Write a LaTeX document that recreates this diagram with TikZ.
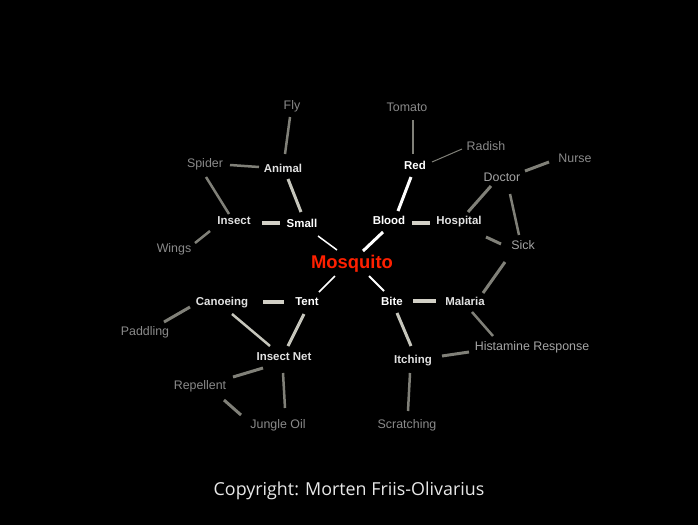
\documentclass[tikz,border=0pt]{standalone}
\usepackage{fontspec}
\usetikzlibrary{calc}
\setmainfont{Liberation Sans}
\newfontfamily\copyfont{Open Sans}
\definecolor{outergray}{RGB}{138,138,138}
\definecolor{midgray}{RGB}{165,165,165}
\definecolor{innertext}{RGB}{225,225,225}
\definecolor{edgegray}{RGB}{128,128,120}
\definecolor{edgelight}{RGB}{198,198,188}
\definecolor{edgethick}{RGB}{210,208,198}
\definecolor{mosqred}{RGB}{255,32,0}
\definecolor{copygray}{RGB}{232,232,232}
\begin{document}
\begin{tikzpicture}[x=0.75pt,y=-0.75pt,
  lbl/.style={inner xsep=3pt,inner ysep=2pt,text height=6.6pt,text depth=0.4pt,font=\fontsize{9.3}{10}\selectfont},
  outerlbl/.style={lbl,text=outergray},
  midlbl/.style={lbl,text=midgray},
  innerlbl/.style={lbl,text=innertext,font=\fontsize{8.6}{10}\selectfont\bfseries},
  toplbl/.style={lbl,text=white,font=\fontsize{8.6}{10}\selectfont\bfseries},
  centrelbl/.style={inner xsep=4pt,inner ysep=5pt,text=mosqred,font=\fontsize{13.8}{16}\selectfont\bfseries},
  gline/.style={draw=edgegray,line width=2.5*0.75pt},
  lline/.style={draw=edgelight,line width=3*0.75pt},
  tline/.style={draw=edgethick,line width=4.5*0.75pt},
  wline/.style={draw=white}
]
\fill[black] (0,0) rectangle (698,525);
\useasboundingbox (0,0) rectangle (698,525);

\node[centrelbl] (mosq) at (352,264) {Mosquito};
% first ring
\node[toplbl] (small) at (302,223) {Small};
\node[toplbl] (blood) at (389,220) {Blood};
\node[toplbl] (tent) at (307,301) {Tent};
\node[toplbl] (bite) at (392,301) {Bite};
\node[toplbl] (red) at (415,165) {Red};
% second ring
\node[innerlbl] (animal) at (283,168) {Animal};
\node[innerlbl] (insect) at (234,220) {Insect};
\node[innerlbl] (hospital) at (459,220) {Hospital};
\node[innerlbl] (malaria) at (465,301) {Malaria};
\node[innerlbl] (itching) at (413,359) {Itching};
\node[innerlbl] (canoeing) at (222,301) {Canoeing};
\node[innerlbl] (inet) at (284,356) {Insect Net};
% outer
\node[outerlbl] (fly) at (292,105) {Fly};
\node[outerlbl] (spider) at (205,163) {Spider};
\node[outerlbl] (wings) at (174,248) {Wings};
\node[outerlbl] (tomato) at (407,107) {Tomato};
\node[outerlbl] (radish) at (486,146) {Radish};
\node[midlbl] (doctor) at (502,177) {Doctor};
\node[outerlbl] (nurse) at (575,158) {Nurse};
\node[midlbl] (sick) at (523,245) {Sick};
\node[midlbl] (hist) at (532,346) {Histamine Response};
\node[outerlbl] (scratch) at (407,424) {Scratching};
\node[outerlbl] (paddling) at (145,331) {Paddling};
\node[outerlbl] (repel) at (200,385) {Repellent};
\node[outerlbl] (jungle) at (278,424) {Jungle Oil};

\node[text=copygray,font=\copyfont\fontsize{13.4}{16}\selectfont,inner sep=0pt] (copy) at (349,491) {Copyright: Morten Friis-Olivarius};

% centre links
\draw[wline,line width=1.5*0.75pt] ($(small)+(16,13)$) -- ($(mosq)+(-15,-14)$);
\draw[wline,line width=3*0.75pt] ($(blood)+(-6,12)$) -- ($(mosq)+(11,-13)$);
\draw[wline,line width=1.5*0.75pt] ($(tent)+(12,-9)$) -- ($(mosq)+(-17,12)$);
\draw[wline,line width=2*0.75pt] ($(bite)+(-8,-10)$) -- ($(mosq)+(17,12)$);
\draw[wline,line width=3*0.75pt] ($(red)+(-4,12)$) -- ($(blood)+(9,-9)$);
% thick horizontals
\draw[tline] ($(insect)+(28,3)$) -- ($(small)+(-22,0)$);
\draw[tline] ($(blood)+(23,3)$) -- ($(hospital)+(-29,3)$);
\draw[tline] ($(canoeing)+(41,1)$) -- ($(tent)+(-23,1)$);
\draw[tline] ($(bite)+(21,0)$) -- ($(malaria)+(-29,0)$);
% light links
\draw[lline] ($(animal)+(5,11)$) -- ($(small)+(-1,-11)$);
\draw[lline,line width=2.5*0.75pt] ($(canoeing)+(10,13)$) -- ($(inet)+(-14,-10)$);
\draw[lline] ($(tent)+(-3,13)$) -- ($(inet)+(4,-10)$);
\draw[lline] ($(bite)+(5,12)$) -- ($(itching)+(-2,-13)$);
% gray links
\draw[gline] ($(fly)+(-2,12)$) -- ($(animal)+(2,-14)$);
\draw[gline] ($(spider)+(25,2)$) -- ($(animal)+(-24,-1)$);
\draw[gline] ($(spider)+(1,14)$) -- ($(insect)+(-5,-6)$);
\draw[gline] ($(insect)+(-24,11)$) -- ($(wings)+(21,-5)$);
\draw[gline] ($(tomato)+(6,13)$) -- ($(red)+(-2,-11)$);
\draw[gline,line width=1*0.75pt] ($(red)+(17,-3)$) -- ($(radish)+(-24,3)$);
\draw[gline,line width=3*0.75pt] ($(doctor)+(23,-6)$) -- ($(nurse)+(-26,4)$);
\draw[gline,line width=3*0.75pt] ($(doctor)+(-11,9)$) -- ($(hospital)+(9,-8)$);
\draw[gline] ($(doctor)+(8,17)$) -- ($(sick)+(-4,-10)$);
\draw[gline,line width=3*0.75pt] ($(hospital)+(27,17)$) -- ($(sick)+(-22,-1)$);
\draw[gline,line width=3*0.75pt] ($(malaria)+(18,-8)$) -- ($(sick)+(-18,17)$);
\draw[gline] ($(malaria)+(7,11)$) -- ($(hist)+(-39,-10)$);
\draw[gline,line width=3*0.75pt] ($(itching)+(29,-3)$) -- ($(hist)+(-63,6)$);
\draw[gline] ($(itching)+(-3,14)$) -- ($(scratch)+(1,-13)$);
\draw[gline,line width=3*0.75pt] ($(canoeing)+(-32,6)$) -- ($(paddling)+(19,-9)$);
\draw[gline,line width=3*0.75pt] ($(inet)+(-21,12)$) -- ($(repel)+(33,-8)$);
\draw[gline] ($(inet)+(-1,17)$) -- ($(jungle)+(7,-16)$);
\draw[gline,line width=3*0.75pt] ($(repel)+(24,15)$) -- ($(jungle)+(-37,-9)$);
\end{tikzpicture}
\end{document}
